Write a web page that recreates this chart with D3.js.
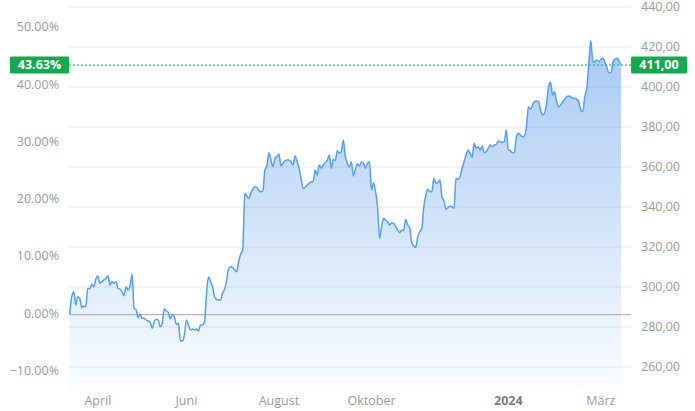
<!DOCTYPE html>
<html>
<head>
<meta charset="utf-8">
<script src="https://cdn.jsdelivr.net/npm/d3@7/dist/d3.min.js"></script>
<style>
  html, body { margin: 0; padding: 0; background: #ffffff; }
  svg { display: block; font-family: "Open Sans", "DejaVu Sans", sans-serif; }
</style>
</head>
<body>
<svg id="chart" width="695" height="411"></svg>
<script>
// ---- data ----
const values = [
  286.15, 295.15, 297.65, 291.0, 295.15, 294.35, 289.65, 290.35, 290.15, 299.35,
  299.0, 301.35, 300.15, 304.0, 305.5, 301.85, 302.65, 303.5, 304.35, 305.65,
  301.0, 302.65, 301.85, 302.65, 299.35, 299.0, 297.65, 295.65, 300.15, 298.5,
  300.65, 306.35, 289.35, 288.5, 284.65, 286.35, 284.35, 284.35, 283.5, 283.0,
  282.35, 279.35, 282.65, 283.85, 283.5, 280.15, 281.85, 289.0, 288.0, 287.35,
  284.0, 286.35, 285.15, 281.35, 281.85, 273.0, 273.0, 276.0, 283.5, 281.0,
  278.5, 279.0, 278.5, 279.0, 278.0, 281.0, 281.0, 282.65,
  296.85, 305.0, 302.65, 300.15, 295.15, 293.85, 293.5, 293.5, 297.15, 298.85,
  303.5, 309.35, 310.15, 309.85, 308.5, 307.65, 313.0, 316.5, 318.5, 346.85,
  345.5, 344.35, 346.85, 348.85, 350.15, 349.85, 348.15, 347.65, 348.15, 358.5,
  360.5, 367.15, 363.5, 360.15, 364.35, 365.15, 366.5, 360.5, 361.85, 363.0,
  363.5, 363.5, 362.65, 361.0, 365.5, 362.65, 359.35, 354.35, 349.35, 349.85,
  351.0, 351.85, 352.65, 352.65, 358.5, 356.0, 361.0, 359.35, 361.0, 362.15,
  363.15, 366.0, 359.35, 363.85, 363.15, 368.15, 366.85, 367.65, 373.5,
  365.15, 361.85, 360.15, 362.65, 355.5, 358.85, 361.5, 360.5, 362.5, 361.85,
  359.35, 361.85, 362.65, 348.5, 352.15, 347.65, 340.15, 324.35, 330.15, 334.35,
  333.5, 332.65, 331.0, 332.15, 331.85, 330.15, 328.5, 327.15, 328.5, 328.15,
  333.85, 331.0, 329.35, 322.15, 320.5, 319.85, 325.15, 327.65, 329.35, 340.15,
  346.0, 348.85, 347.65, 347.65, 354.35, 351.85, 352.15, 353.5, 345.15, 343.15,
  338.85, 339.65, 340.5, 340.15, 339.35, 354.35, 353.85, 355.15, 359.35, 362.65,
  366.0, 368.5, 366.85, 364.85,
  371.85, 369.35, 370.15, 368.5, 370.5, 367.15, 367.65, 369.35, 371.0, 370.15,
  371.0, 371.35, 373.0, 372.65, 372.35, 372.65, 378.5, 368.5, 368.15, 367.15,
  367.15, 375.15, 376.85, 376.0, 375.15, 375.5, 380.15, 390.15, 388.85, 391.0,
  392.65, 393.0, 392.65, 388.5, 386.0, 386.85, 391.85, 400.15, 402.35, 396.0,
  397.65, 392.65, 390.15, 391.0, 392.65, 393.85, 395.15, 395.5, 395.15,
  394.35, 394.35, 393.85, 392.65, 388.5, 387.65, 395.15, 399.35, 411.85, 423.15,
  412.65, 412.65, 413.5, 412.65, 413.85, 414.35, 412.65,
  409.85, 407.15, 407.15, 412.65, 413.85, 414.35, 413.15, 411.0
];
const monthLabels = ["April", "Juni", "August", "Oktober", "2024", "März"];
const monthIdx    = [14, 58, 104, 150, 218, 264];
const priceTicks  = [260, 280, 300, 320, 340, 360, 380, 400, 420, 440];
const pctTicks    = [-0.10, 0, 0.10, 0.20, 0.30, 0.40, 0.50];

// ---- layout ----
const svg = d3.select("#chart");
const plotL = 69, plotR = 631, lineR = 621;
const base = values[0];
const last = values[values.length - 1];

const x = d3.scaleLinear().domain([0, values.length - 1]).range([69.7, lineR]);
const y = d3.scaleLinear().domain([260, 440]).range([367, 7]);
const yPct = p => y(base * (1 + p));

const grey = "#9b9b9b";
const green = "#13a94f";

// gradient
const defs = svg.append("defs");
const grad = defs.append("linearGradient").attr("id", "areaGrad")
  .attr("gradientUnits", "userSpaceOnUse").attr("x1", 0).attr("x2", 0).attr("y1", 40).attr("y2", 390);
grad.append("stop").attr("offset", "0%").attr("stop-color", "#4f94e8").attr("stop-opacity", 0.5);
grad.append("stop").attr("offset", "100%").attr("stop-color", "#4f94e8").attr("stop-opacity", 0.02);

// gridlines (right axis ticks)
svg.append("g").selectAll("line").data(priceTicks).join("line")
  .attr("x1", plotL).attr("x2", plotR)
  .attr("y1", d => y(d)).attr("y2", d => y(d))
  .attr("stroke", "#e8e8e8").attr("stroke-width", 1);

// area
const area = d3.area()
  .x((d, i) => x(i)).y0(390).y1(d => y(d))
  .curve(d3.curveMonotoneX);
svg.append("path").datum(values).attr("d", area).attr("fill", "url(#areaGrad)");

// zero line
svg.append("line").attr("x1", plotL).attr("x2", plotR)
  .attr("y1", yPct(0)).attr("y2", yPct(0))
  .attr("stroke", "#a3a3ab").attr("stroke-width", 1);

// price line
const line = d3.line().x((d, i) => x(i)).y(d => y(d)).curve(d3.curveMonotoneX);
svg.append("path").datum(values).attr("d", line)
  .attr("fill", "none").attr("stroke", "#559ff0").attr("stroke-width", 1.5)
  .attr("stroke-linejoin", "round");

// right axis labels
const fmtPrice = d => d3.format(".2f")(d).replace(".", ",");
svg.append("g").selectAll("text").data(priceTicks).join("text")
  .attr("x", 641).attr("y", d => y(d)).attr("dy", "0.35em")
  .attr("fill", grey).attr("font-size", 12.5)
  .text(fmtPrice);

// left axis labels
const fmtPct = p => (p < 0 ? "\u2212" : "") + d3.format(".2f")(Math.abs(p) * 100) + "%";
svg.append("g").selectAll("text").data(pctTicks).join("text")
  .attr("x", 59).attr("y", d => yPct(d) - 1.5).attr("dy", "0.35em")
  .attr("text-anchor", "end")
  .attr("fill", grey).attr("font-size", 12.5)
  .text(fmtPct);

// x labels
svg.append("g").selectAll("text").data(monthLabels).join("text")
  .attr("x", (d, i) => x(monthIdx[i])).attr("y", 401).attr("dy", "0.35em")
  .attr("text-anchor", "middle")
  .attr("fill", d => d === "2024" ? "#7d7d7d" : grey)
  .attr("font-weight", d => d === "2024" ? "bold" : "normal")
  .attr("font-size", 12.5)
  .text(d => d);

// current value dotted line
svg.append("line").attr("x1", plotL).attr("x2", plotR)
  .attr("y1", y(last)).attr("y2", y(last))
  .attr("stroke", green).attr("stroke-width", 1).attr("stroke-dasharray", "2,2");

// badges
const pctText = d3.format(".2f")((last / base - 1) * 100) + "%";
svg.append("rect").attr("x", 10).attr("y", y(last) - 8.5).attr("width", 59).attr("height", 17)
  .attr("rx", 1.5).attr("fill", green);
svg.append("text").attr("x", 39.5).attr("y", y(last)).attr("dy", "0.35em")
  .attr("text-anchor", "middle").attr("fill", "#fff").attr("font-weight", "bold").attr("font-size", 12.5)
  .text(pctText);
svg.append("rect").attr("x", plotR).attr("y", y(last) - 8.5).attr("width", 56).attr("height", 17)
  .attr("rx", 1.5).attr("fill", green);
svg.append("text").attr("x", plotR + 28).attr("y", y(last)).attr("dy", "0.35em")
  .attr("text-anchor", "middle").attr("fill", "#fff").attr("font-weight", "bold").attr("font-size", 12.5)
  .text(fmtPrice(last));
</script>
</body>
</html>
